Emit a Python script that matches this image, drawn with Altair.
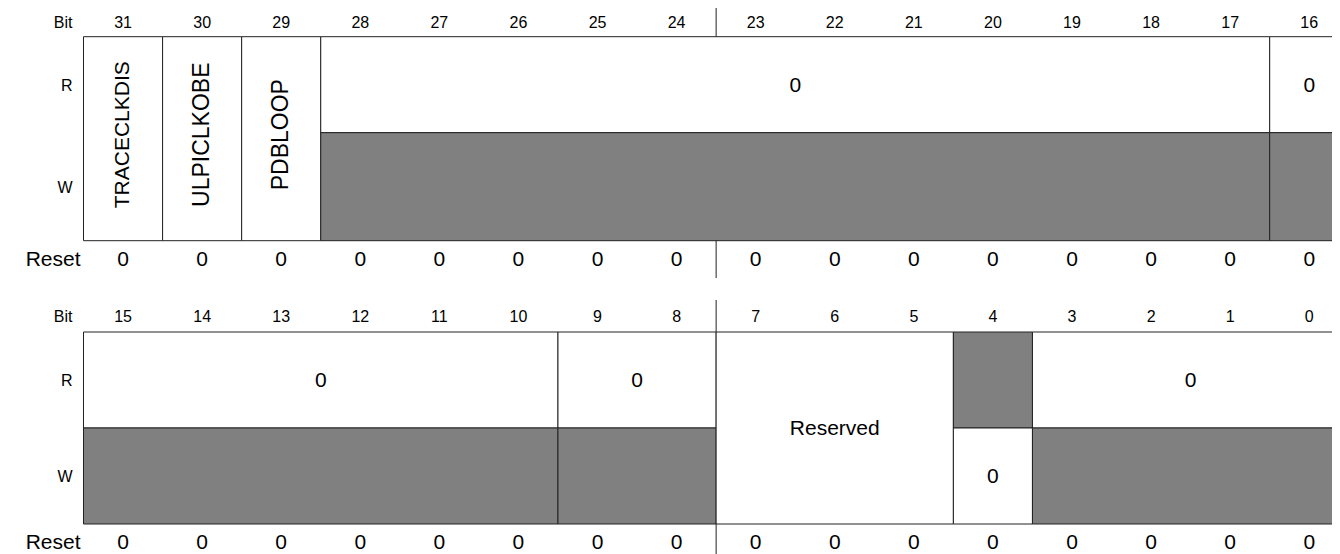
import altair as alt
import pandas as pd

FONT = "Liberation Sans"

# ---- register content -------------------------------------------------
# register 0 = bits 31..16, register 1 = bits 15..0
top_names = ["TRACECLKDIS", "ULPICLKOBE", "PDBLOOP", "0", "0"]
top_msb = [31, 30, 29, 28, 16]
top_lsb = [31, 30, 29, 17, 16]
top_kind = ["rw", "rw", "rw", "ro", "ro"]

bot_names = ["0", "0", "Reserved", "0", "0"]
bot_msb = [15, 9, 7, 4, 3]
bot_lsb = [10, 8, 5, 4, 0]
bot_kind = ["ro", "ro", "rsv", "wo", "ro"]

top_bits = [31, 30, 29, 28, 27, 26, 25, 24, 23, 22, 21, 20, 19, 18, 17, 16]
bot_bits = [15, 14, 13, 12, 11, 10, 9, 8, 7, 6, 5, 4, 3, 2, 1, 0]
top_reset = ["0", "0", "0", "0", "0", "0", "0", "0", "0", "0", "0", "0", "0", "0", "0", "0"]
bot_reset = ["0", "0", "0", "0", "0", "0", "0", "0", "0", "0", "0", "0", "0", "0", "0", "0"]

row_labels = ["Bit", "R", "W"]
reset_label = "Reset"
# byte-boundary marker drawn after these bits
split_bit_top = 24
split_bit_bot = 8

# font size of the rotated field names (style, not data)
vname_size = {"TRACECLKDIS": 21, "ULPICLKOBE": 23, "PDBLOOP": 23}

# ---- build tables -----------------------------------------------------
def col(reg, bit):
    return 31 - 16 * reg - bit

rects, htext, vtext = [], [], []
for reg, (names, msbs, lsbs, kinds) in enumerate(
    [(top_names, top_msb, top_lsb, top_kind), (bot_names, bot_msb, bot_lsb, bot_kind)]
):
    base = 5 * reg
    for name, msb, lsb, kind in zip(names, msbs, lsbs, kinds):
        x1, x2 = col(reg, msb), col(reg, lsb) + 1
        xc = (x1 + x2) / 2
        if kind == "rw":
            rects.append(dict(x=x1, x2=x2, y=base + 1, y2=base + 3, fill="white"))
            vtext.append(dict(x=xc, y=base + 2, label=name, fs=vname_size.get(name, 22)))
        elif kind == "rsv":
            rects.append(dict(x=x1, x2=x2, y=base + 1, y2=base + 3, fill="white"))
            htext.append(dict(x=xc, y=base + 2, label=name))
        elif kind == "ro":
            rects.append(dict(x=x1, x2=x2, y=base + 1, y2=base + 2, fill="white"))
            rects.append(dict(x=x1, x2=x2, y=base + 2, y2=base + 3, fill="#808080"))
            htext.append(dict(x=xc, y=base + 1.5, label=name))
        elif kind == "wo":
            rects.append(dict(x=x1, x2=x2, y=base + 1, y2=base + 2, fill="#808080"))
            rects.append(dict(x=x1, x2=x2, y=base + 2, y2=base + 3, fill="white"))
            htext.append(dict(x=xc, y=base + 2.5, label=name))

bitnums, resets, small_lab, big_lab, seps = [], [], [], [], []
for reg, (bits, rst, split) in enumerate(
    [(top_bits, top_reset, split_bit_top), (bot_bits, bot_reset, split_bit_bot)]
):
    base = 5 * reg
    for b, r in zip(bits, rst):
        c = col(reg, b)
        bitnums.append(dict(x=c + 0.5, y=base + 0.5, label=str(b)))
        resets.append(dict(x=c + 0.5, y=base + 3.5, label=r))
    for i, lab in enumerate(row_labels):
        small_lab.append(dict(x=0, y=base + 0.5 + i, label=lab))
    big_lab.append(dict(x=0, y=base + 3.5, label=reset_label))
    sc = col(reg, split) + 1
    seps.append(dict(x=sc, y=base + 0, y2=base + 1))
    seps.append(dict(x=sc, y=base + 3, y2=base + 4))

rects = pd.DataFrame(rects)
htext = pd.DataFrame(htext)
vtext = pd.DataFrame(vtext)
bitnums = pd.DataFrame(bitnums)
resets = pd.DataFrame(resets)
small_lab = pd.DataFrame(small_lab)
big_lab = pd.DataFrame(big_lab)
seps = pd.DataFrame(seps)

# ---- scales -----------------------------------------------------------
CW = 79.08
xs = alt.Scale(domain=[0, 16], range=[75.5, 75.5 + 16 * CW], zero=False, nice=False)
ys = alt.Scale(
    domain=[0, 1, 2, 3, 4, 5, 6, 7, 8, 9],
    range=[-1, 28.7, 124.7, 232.7, 270, 292, 324, 420, 516, 552],
    zero=False,
    nice=False,
)
X = lambda f="x": alt.X(f"{f}:Q", scale=xs, axis=None)
Y = lambda f="y": alt.Y(f"{f}:Q", scale=ys, axis=None)

cells = alt.Chart(rects).mark_rect(stroke="#222222", strokeWidth=1).encode(
    x=X(), x2="x2:Q", y=Y(), y2="y2:Q", fill=alt.Fill("fill:N", scale=None)
)

sep_rules = alt.Chart(seps).mark_rule(color="#222222", strokeWidth=1).encode(
    x=X(), y=Y(), y2="y2:Q"
)

def text_layer(df, size, **kw):
    return alt.Chart(df).mark_text(
        font=FONT, fontSize=size, color="black", baseline="middle", **kw
    ).encode(x=X(), y=Y(), text="label:N")

vnames = alt.Chart(vtext).mark_text(
    font=FONT, color="black", baseline="middle", align="center", angle=270, dx=-2
).encode(x=X(), y=Y(), text="label:N", size=alt.Size("fs:Q", scale=None, legend=None))

layers = [
    cells,
    sep_rules,
    text_layer(htext, 21, align="center", dy=1),
    vnames,
    text_layer(bitnums, 16, align="center", dy=1),
    text_layer(resets, 21, align="center", dy=1),
    text_layer(small_lab, 16, align="right", dx=-11, dy=1),
    text_layer(big_lab, 21, align="right", dx=-3, dy=1),
]

chart = (
    alt.layer(*layers)
    .properties(width=1324, height=546, padding=0, autosize=alt.AutoSizeParams(type="none"))
    .configure_view(stroke=None)
)

chart.save("out.html", embed_options={"renderer": "svg", "actions": False})
